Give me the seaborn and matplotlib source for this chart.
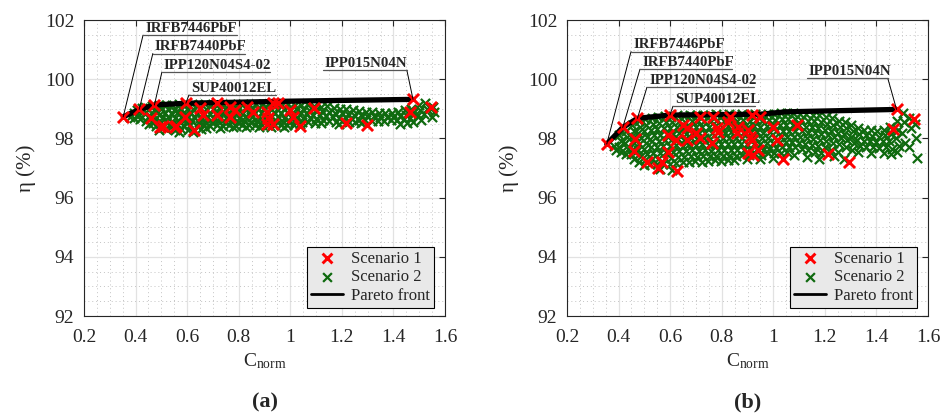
import matplotlib
matplotlib.use("Agg")
import matplotlib.pyplot as plt
import seaborn as sns
import pandas as pd
from matplotlib.ticker import MultipleLocator, FuncFormatter

sns.set_style("white")
plt.rcParams['font.family'] = ['Liberation Serif', 'DejaVu Serif']
plt.rcParams['mathtext.fontset'] = 'custom'
plt.rcParams['mathtext.rm'] = 'Liberation Serif'

# ---- data (a) ----
red_a_x = [0.352, 0.414, 0.458, 0.473, 0.507, 0.557, 0.595, 0.591, 0.626, 0.650, 0.662, 0.714, 0.714,
           0.766, 0.766, 0.785, 0.831, 0.856, 0.908, 0.914, 0.934, 0.953, 0.908, 0.934, 0.998, 1.011,
           1.037, 1.091, 1.216, 1.296, 1.476, 1.466, 1.544, 0.495, 0.553]
red_a_y = [98.73, 98.98, 98.68, 99.13, 98.42, 98.42, 99.19, 98.73, 98.28, 99.02, 98.79, 99.19, 98.79,
           99.07, 98.73, 98.96, 99.07, 98.90, 98.90, 98.68, 99.19, 99.21, 98.48, 98.48, 98.96, 98.73,
           98.42, 99.02, 98.53, 98.45, 99.32, 98.90, 99.07, 98.40, 98.40]

green_a = [
    (0.378, 98.74), (0.392, 98.86), (0.395, 98.68),
    (0.405, 98.95), (0.412, 98.80), (0.418, 98.66), (0.425, 99.02),
    (0.436, 99.06), (0.441, 98.90), (0.447, 98.74), (0.439, 98.60), (0.452, 98.50),
    (0.463, 99.10), (0.471, 98.96), (0.466, 98.81), (0.475, 98.66), (0.468, 98.52), (0.478, 98.41),
    (0.492, 99.12), (0.499, 98.98), (0.494, 98.84), (0.503, 98.70), (0.497, 98.55), (0.505, 98.40), (0.490, 98.30),
    (0.518, 99.14), (0.524, 99.00), (0.515, 98.87), (0.527, 98.73), (0.520, 98.58), (0.528, 98.45), (0.517, 98.33),
    (0.543, 99.12), (0.548, 98.96), (0.540, 98.82), (0.551, 98.68), (0.546, 98.53), (0.539, 98.39), (0.553, 98.27),
    (0.568, 99.15), (0.574, 99.02), (0.565, 98.88), (0.576, 98.74), (0.570, 98.60), (0.563, 98.45), (0.577, 98.32), (0.569, 98.22),
    (0.593, 99.13), (0.598, 98.98), (0.590, 98.84), (0.601, 98.70), (0.596, 98.55), (0.589, 98.41), (0.603, 98.27),
    (0.618, 99.15), (0.624, 99.01), (0.615, 98.87), (0.626, 98.73), (0.620, 98.58), (0.613, 98.44), (0.627, 98.30), (0.621, 98.21),
    (0.643, 99.14), (0.649, 98.99), (0.640, 98.85), (0.651, 98.70), (0.646, 98.56), (0.639, 98.42), (0.652, 98.31),
    (0.668, 99.15), (0.673, 99.00), (0.665, 98.86), (0.676, 98.72), (0.670, 98.57), (0.664, 98.44), (0.675, 98.34),
    (0.693, 99.13), (0.699, 98.98), (0.690, 98.84), (0.701, 98.69), (0.696, 98.55), (0.689, 98.42),
    (0.718, 99.16), (0.724, 99.02), (0.715, 98.88), (0.726, 98.73), (0.720, 98.59), (0.714, 98.46), (0.727, 98.36),
    (0.743, 99.14), (0.748, 98.99), (0.740, 98.85), (0.751, 98.70), (0.746, 98.56), (0.739, 98.43),
    (0.768, 99.15), (0.774, 99.01), (0.765, 98.87), (0.776, 98.72), (0.770, 98.58), (0.764, 98.45), (0.777, 98.37),
    (0.793, 99.13), (0.799, 98.98), (0.790, 98.84), (0.801, 98.70), (0.796, 98.56), (0.789, 98.43),
    (0.818, 99.16), (0.824, 99.02), (0.815, 98.87), (0.826, 98.73), (0.820, 98.59), (0.814, 98.46), (0.827, 98.38),
    (0.843, 99.14), (0.849, 99.00), (0.840, 98.85), (0.851, 98.71), (0.846, 98.57), (0.839, 98.44),
    (0.868, 99.15), (0.874, 99.01), (0.865, 98.86), (0.876, 98.72), (0.870, 98.58), (0.864, 98.45), (0.877, 98.39),
    (0.893, 99.17), (0.899, 99.02), (0.890, 98.88), (0.901, 98.74), (0.896, 98.60), (0.889, 98.47),
    (0.918, 99.15), (0.924, 99.00), (0.915, 98.86), (0.926, 98.71), (0.920, 98.57), (0.914, 98.44), (0.927, 98.37),
    (0.943, 99.16), (0.949, 99.01), (0.940, 98.87), (0.951, 98.72), (0.946, 98.58), (0.939, 98.46),
    (0.968, 99.14), (0.974, 98.99), (0.965, 98.85), (0.976, 98.70), (0.970, 98.56), (0.964, 98.45), (0.977, 98.40),
    (0.993, 99.15), (0.999, 99.00), (0.990, 98.86), (1.001, 98.71), (0.996, 98.57), (0.989, 98.47),
    (1.018, 99.13), (1.024, 98.98), (1.015, 98.84), (1.026, 98.69), (1.020, 98.55), (1.014, 98.45),
    (1.043, 99.14), (1.049, 99.00), (1.040, 98.85), (1.051, 98.70), (1.046, 98.56), (1.039, 98.48),
    (1.068, 99.12), (1.074, 98.97), (1.065, 98.83), (1.076, 98.68), (1.070, 98.55),
    (1.093, 99.10), (1.099, 98.95), (1.090, 98.80), (1.101, 98.66), (1.096, 98.53),
    (1.118, 99.05), (1.124, 98.92), (1.115, 98.78), (1.126, 98.64), (1.121, 98.52),
    (1.143, 99.08), (1.149, 98.90), (1.140, 98.75), (1.151, 98.60),
    (1.168, 99.02), (1.174, 98.86), (1.165, 98.72), (1.176, 98.57),
    (1.193, 99.00), (1.199, 98.85), (1.190, 98.70), (1.201, 98.58), (1.188, 98.50),
    (1.218, 98.98), (1.224, 98.82), (1.215, 98.68), (1.226, 98.57),
    (1.243, 98.95), (1.249, 98.80), (1.240, 98.65), (1.251, 98.55),
    (1.268, 98.92), (1.274, 98.78), (1.265, 98.64), (1.276, 98.52),
    (1.293, 98.90), (1.299, 98.76), (1.290, 98.62),
    (1.318, 98.88), (1.324, 98.75), (1.315, 98.60),
    (1.343, 98.86), (1.349, 98.74), (1.340, 98.60),
    (1.368, 98.85), (1.374, 98.72), (1.365, 98.60),
    (1.393, 98.87), (1.399, 98.74), (1.390, 98.62),
    (1.418, 98.90), (1.424, 98.76), (1.415, 98.62), (1.426, 98.50),
    (1.443, 98.95), (1.449, 98.80), (1.440, 98.65), (1.451, 98.52),
    (1.468, 99.00), (1.474, 98.85), (1.465, 98.70), (1.476, 98.55),
    (1.498, 99.12), (1.504, 98.95), (1.495, 98.78), (1.506, 98.62),
    (1.523, 99.20), (1.529, 98.98), (1.520, 98.82),
    (1.553, 99.05), (1.558, 98.88), (1.548, 98.72),
]

front_a_x = [0.352, 0.414, 0.473, 0.595, 1.000, 1.476]
front_a_y = [98.73, 98.98, 99.13, 99.19, 99.26, 99.32]

# ---- data (b) ----
red_b_x = [0.354, 0.416, 0.464, 0.473, 0.460, 0.509, 0.554, 0.567, 0.625, 0.593, 0.599, 0.593, 0.622,
           0.648, 0.664, 0.664, 0.699, 0.715, 0.715, 0.767, 0.764, 0.780, 0.785, 0.832, 0.826, 0.858,
           0.864, 0.903, 0.909, 0.916, 0.948, 0.919, 0.903, 0.922, 0.942, 1.000, 1.013, 1.039, 1.090,
           1.213, 1.295, 1.478, 1.465, 1.545]
red_b_y = [97.81, 98.37, 97.97, 98.68, 97.58, 97.19, 96.99, 97.19, 96.90, 97.55, 98.79, 98.11, 97.95,
           98.45, 98.34, 97.95, 98.17, 98.73, 98.03, 98.73, 97.85, 98.34, 98.23, 98.71, 98.57, 98.17,
           98.40, 98.28, 98.06, 98.79, 98.73, 97.95, 97.50, 97.45, 97.61, 98.40, 97.95, 97.29, 98.45,
           97.47, 97.19, 98.98, 98.31, 98.66]

green_b = [
    (0.383, 97.75), (0.390, 97.60),
    (0.402, 98.10), (0.408, 97.92), (0.400, 97.72), (0.411, 97.55),
    (0.428, 98.25), (0.433, 98.05), (0.425, 97.86), (0.436, 97.66), (0.430, 97.46),
    (0.453, 98.45), (0.458, 98.26), (0.450, 98.06), (0.461, 97.86), (0.455, 97.66), (0.449, 97.46), (0.460, 97.30),
    (0.478, 98.60), (0.483, 98.40), (0.475, 98.20), (0.486, 98.00), (0.480, 97.80), (0.474, 97.60), (0.485, 97.40), (0.479, 97.22),
    (0.503, 98.66), (0.508, 98.46), (0.500, 98.26), (0.511, 98.06), (0.505, 97.86), (0.499, 97.66), (0.510, 97.46), (0.504, 97.26), (0.498, 97.10),
    (0.528, 98.70), (0.533, 98.50), (0.525, 98.30), (0.536, 98.10), (0.530, 97.90), (0.524, 97.70), (0.535, 97.50), (0.529, 97.30), (0.523, 97.12),
    (0.553, 98.72), (0.558, 98.52), (0.550, 98.32), (0.561, 98.12), (0.555, 97.92), (0.549, 97.72), (0.560, 97.52), (0.554, 97.32), (0.548, 97.12), (0.559, 96.98),
    (0.578, 98.75), (0.583, 98.55), (0.575, 98.35), (0.586, 98.15), (0.580, 97.95), (0.574, 97.75), (0.585, 97.55), (0.579, 97.35), (0.573, 97.15),
    (0.603, 98.74), (0.608, 98.54), (0.600, 98.34), (0.611, 98.14), (0.605, 97.94), (0.599, 97.74), (0.610, 97.54), (0.604, 97.34), (0.598, 97.14), (0.609, 96.95),
    (0.628, 98.78), (0.633, 98.58), (0.625, 98.38), (0.636, 98.18), (0.630, 97.98), (0.624, 97.78), (0.635, 97.58), (0.629, 97.38), (0.623, 97.18),
    (0.653, 98.76), (0.658, 98.56), (0.650, 98.36), (0.661, 98.16), (0.655, 97.96), (0.649, 97.76), (0.660, 97.56), (0.654, 97.36), (0.648, 97.20),
    (0.678, 98.80), (0.683, 98.60), (0.675, 98.40), (0.686, 98.20), (0.680, 98.00), (0.674, 97.80), (0.685, 97.60), (0.679, 97.40), (0.673, 97.22),
    (0.703, 98.78), (0.708, 98.58), (0.700, 98.38), (0.711, 98.18), (0.705, 97.98), (0.699, 97.78), (0.710, 97.58), (0.704, 97.38), (0.698, 97.24),
    (0.728, 98.80), (0.733, 98.60), (0.725, 98.40), (0.736, 98.20), (0.730, 98.00), (0.724, 97.80), (0.735, 97.60), (0.729, 97.40), (0.723, 97.22),
    (0.753, 98.79), (0.758, 98.59), (0.750, 98.39), (0.761, 98.19), (0.755, 97.99), (0.749, 97.79), (0.760, 97.59), (0.754, 97.39), (0.748, 97.25),
    (0.778, 98.81), (0.783, 98.61), (0.775, 98.41), (0.786, 98.21), (0.780, 98.01), (0.774, 97.81), (0.785, 97.61), (0.779, 97.41), (0.773, 97.26),
    (0.803, 98.80), (0.808, 98.60), (0.800, 98.40), (0.811, 98.20), (0.805, 98.00), (0.799, 97.80), (0.810, 97.60), (0.804, 97.40), (0.798, 97.24),
    (0.828, 98.82), (0.833, 98.62), (0.825, 98.42), (0.836, 98.22), (0.830, 98.02), (0.824, 97.82), (0.835, 97.62), (0.829, 97.42), (0.823, 97.26),
    (0.853, 98.80), (0.858, 98.60), (0.850, 98.40), (0.861, 98.20), (0.855, 98.00), (0.849, 97.80), (0.860, 97.60), (0.854, 97.42), (0.848, 97.27),
    (0.878, 98.82), (0.883, 98.62), (0.875, 98.42), (0.886, 98.22), (0.880, 98.02), (0.874, 97.82), (0.885, 97.62), (0.879, 97.44),
    (0.903, 98.80), (0.908, 98.60), (0.900, 98.40), (0.911, 98.20), (0.905, 98.00), (0.899, 97.80), (0.910, 97.62), (0.904, 97.44), (0.898, 97.30),
    (0.928, 98.82), (0.933, 98.62), (0.925, 98.42), (0.936, 98.22), (0.930, 98.02), (0.924, 97.82), (0.935, 97.64), (0.929, 97.46),
    (0.953, 98.80), (0.958, 98.60), (0.950, 98.40), (0.961, 98.20), (0.955, 98.00), (0.949, 97.80), (0.960, 97.62), (0.954, 97.45), (0.948, 97.32),
    (0.978, 98.82), (0.983, 98.62), (0.975, 98.42), (0.986, 98.22), (0.980, 98.02), (0.974, 97.84), (0.985, 97.66), (0.979, 97.50),
    (1.003, 98.84), (1.008, 98.64), (1.000, 98.44), (1.011, 98.24), (1.005, 98.04), (0.999, 97.86), (1.010, 97.68), (1.004, 97.50), (0.998, 97.35),
    (1.028, 98.85), (1.033, 98.65), (1.025, 98.45), (1.036, 98.25), (1.030, 98.05), (1.024, 97.87), (1.035, 97.70), (1.029, 97.52),
    (1.053, 98.86), (1.058, 98.66), (1.050, 98.46), (1.061, 98.26), (1.055, 98.06), (1.049, 97.88), (1.060, 97.70), (1.054, 97.55),
    (1.078, 98.86), (1.083, 98.66), (1.075, 98.46), (1.086, 98.26), (1.080, 98.06), (1.074, 97.88), (1.085, 97.70), (1.079, 97.45),
    (1.103, 98.84), (1.108, 98.64), (1.100, 98.44), (1.111, 98.24), (1.105, 98.04), (1.099, 97.86), (1.110, 97.65),
    (1.128, 98.82), (1.133, 98.60), (1.125, 98.40), (1.136, 98.20), (1.130, 98.00), (1.124, 97.82), (1.135, 97.60), (1.129, 97.38),
    (1.153, 98.80), (1.158, 98.58), (1.150, 98.38), (1.161, 98.18), (1.155, 97.98), (1.149, 97.78), (1.160, 97.55),
    (1.178, 98.78), (1.183, 98.56), (1.175, 98.36), (1.186, 98.16), (1.180, 97.96), (1.174, 97.75), (1.185, 97.50), (1.179, 97.30),
    (1.203, 98.72), (1.208, 98.50), (1.200, 98.30), (1.211, 98.10), (1.205, 97.90), (1.199, 97.70),
    (1.228, 98.68), (1.233, 98.46), (1.225, 98.26), (1.236, 98.06), (1.230, 97.86), (1.224, 97.62), (1.235, 97.40),
    (1.253, 98.60), (1.258, 98.40), (1.250, 98.20), (1.261, 98.00), (1.255, 97.80), (1.249, 97.55),
    (1.278, 98.55), (1.283, 98.35), (1.275, 98.15), (1.286, 97.95), (1.280, 97.72), (1.274, 97.30),
    (1.303, 98.45), (1.308, 98.25), (1.300, 98.05), (1.311, 97.85), (1.305, 97.60),
    (1.328, 98.35), (1.333, 98.15), (1.325, 97.95), (1.336, 97.75), (1.330, 97.55),
    (1.353, 98.30), (1.358, 98.10), (1.350, 97.92), (1.361, 97.72),
    (1.378, 98.28), (1.383, 98.08), (1.375, 97.90), (1.386, 97.70), (1.380, 97.50),
    (1.403, 98.25), (1.408, 98.05), (1.400, 97.88), (1.411, 97.68),
    (1.428, 98.30), (1.433, 98.10), (1.425, 97.90), (1.436, 97.70), (1.430, 97.50),
    (1.453, 98.40), (1.458, 98.15), (1.450, 97.92), (1.461, 97.65), (1.455, 97.48),
    (1.478, 98.60), (1.483, 98.30), (1.475, 98.00), (1.486, 97.75), (1.480, 97.55),
    (1.503, 98.85), (1.508, 98.55), (1.500, 98.20), (1.511, 97.85),
    (1.528, 98.70), (1.533, 98.35), (1.525, 97.70),
    (1.553, 98.02), (1.558, 97.35), (1.548, 98.50),
]

front_b_x = [0.354, 0.416, 0.473, 0.599, 0.950, 1.050, 1.478]
front_b_y = [97.81, 98.37, 98.68, 98.79, 98.82, 98.90, 98.98]

# device labels: name, marker the leader starts at, underline (x0, x1, y), which end
names = ['IRFB7446PbF', 'IRFB7440PbF', 'IPP120N04S4-02', 'SUP40012EL', 'IPP015N04N']
lab_a_pt = [(0.352, 98.73), (0.414, 98.98), (0.473, 99.13), (0.595, 99.19), (1.476, 99.32)]
lab_a_line = [(0.429, 0.793, 101.49), (0.467, 0.824, 100.87), (0.502, 0.921, 100.24),
              (0.607, 0.944, 99.47), (1.126, 1.452, 100.31)]
lab_b_pt = [(0.354, 97.81), (0.416, 98.37), (0.473, 98.68), (0.599, 98.79), (1.478, 98.98)]
lab_b_line = [(0.448, 0.805, 100.93), (0.483, 0.840, 100.34), (0.510, 0.925, 99.73),
              (0.611, 0.929, 99.09), (1.129, 1.444, 100.03)]
lab_end = ['left', 'left', 'left', 'left', 'right']

RED = '#ff0000'
GREEN = '#0f6a0f'

fig = plt.figure(figsize=(9.46, 4.18), dpi=100)
ax_a = fig.add_axes([0.0888, 0.244, 0.3816, 0.708])
ax_b = fig.add_axes([0.5994, 0.244, 0.3816, 0.708])


def draw_panel(ax, red_x, red_y, green, fx, fy, lab_pt, lab_line, tag):
    g = pd.DataFrame(green, columns=['c', 'eta'])
    r = pd.DataFrame({'c': red_x, 'eta': red_y})
    f = pd.DataFrame({'c': fx, 'eta': fy})

    sns.scatterplot(data=g, x='c', y='eta', marker='x', color=GREEN, s=44,
                    linewidth=1.6, ax=ax, label='Scenario 2', zorder=3)
    sns.lineplot(data=f, x='c', y='eta', color='black', lw=3.8, sort=False,
                 estimator=None, ax=ax, label='Pareto front', zorder=4)
    sns.scatterplot(data=r, x='c', y='eta', marker='x', color=RED, s=64,
                    linewidth=2.1, ax=ax, label='Scenario 1', zorder=5)

    # leader lines + underlined labels
    for name, (px, py), (x0, x1, uy), end in zip(names, lab_pt, lab_line, lab_end):
        ex = x0 if end == 'left' else x1
        ax.plot([px, ex], [py, uy], color='black', lw=0.7, zorder=6)
        ax.plot([x0, x1], [uy, uy], color='#555555', lw=0.9, zorder=6)
        ax.annotate(name, xy=(x0, uy), xytext=(1.5, 0.3), textcoords='offset points',
                    ha='left', va='bottom', fontsize=10.7, fontweight='bold', zorder=7)

    ax.set_xlim(0.2, 1.6)
    ax.set_ylim(92, 102)
    ax.xaxis.set_major_locator(MultipleLocator(0.2))
    ax.xaxis.set_minor_locator(MultipleLocator(0.05))
    ax.yaxis.set_major_locator(MultipleLocator(2))
    ax.yaxis.set_minor_locator(MultipleLocator(0.5))
    ax.xaxis.set_major_formatter(FuncFormatter(lambda v, p: '%g' % round(v, 2)))
    ax.yaxis.set_major_formatter(FuncFormatter(lambda v, p: '%g' % v))
    ax.grid(True, which='major', color='#e2e2e2', lw=0.9)
    ax.grid(True, which='minor', color='#c4c4c4', ls=(0, (1, 3)), lw=0.7)
    ax.set_axisbelow(True)
    ax.tick_params(which='major', direction='in', top=True, right=True, length=4,
                   width=0.8, labelsize=14, colors='#262626', labelcolor='#262626')
    ax.tick_params(axis='x', pad=9)
    ax.tick_params(axis='y', pad=7)
    ax.tick_params(which='minor', length=0)
    for s in ax.spines.values():
        s.set_color('#262626')
        s.set_linewidth(0.8)

    ax.set_xlabel(r'$\mathregular{C_{norm}}$', fontsize=14, color='#262626', labelpad=4)
    ax.set_ylabel('η (%)', fontsize=15, color='#262626', labelpad=6)

    h, l = ax.get_legend_handles_labels()
    order = [l.index('Scenario 1'), l.index('Scenario 2'), l.index('Pareto front')]
    leg = ax.legend([h[i] for i in order], [l[i] for i in order], loc='lower right',
                    bbox_to_anchor=(0.97, 0.027), borderaxespad=0, fontsize=12,
                    frameon=True, fancybox=False, framealpha=1, facecolor='#e9e9e9',
                    edgecolor='black', handlelength=1.9, handletextpad=0.5,
                    labelspacing=0.15, borderpad=0.25)
    leg.get_frame().set_linewidth(0.8)
    leg.legend_handles[2].set_linewidth(2)
    leg.legend_handles[0].set_sizes([50])
    leg.legend_handles[1].set_sizes([40])

    pos = ax.get_position()
    fig.text(pos.x0 + pos.width / 2, 0.036, '(' + tag + ')', ha='center', va='center',
             fontsize=16, fontweight='bold')


draw_panel(ax_a, red_a_x, red_a_y, green_a, front_a_x, front_a_y, lab_a_pt, lab_a_line, 'a')
draw_panel(ax_b, red_b_x, red_b_y, green_b, front_b_x, front_b_y, lab_b_pt, lab_b_line, 'b')

fig.savefig('out.png', dpi=100)
